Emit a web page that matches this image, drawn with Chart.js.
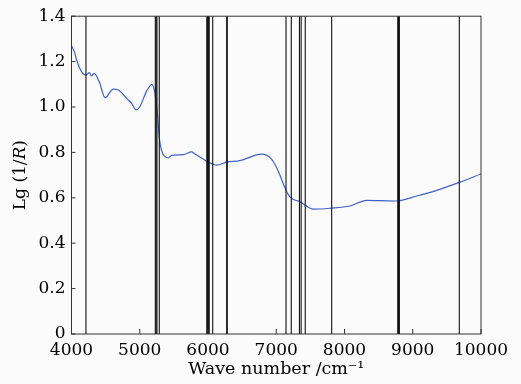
<!DOCTYPE html>
<html>
<head>
<meta charset="utf-8">
<script src="https://cdn.jsdelivr.net/npm/chart.js@4/dist/chart.umd.min.js"></script>
<style>
  html, body { margin: 0; padding: 0; background: #fbfbfb; }
  #wrap { width: 521px; height: 384px; }
</style>
</head>
<body>
<div id="wrap"><canvas id="chart"></canvas></div>
<script>
// spectrum
const waveNumbers = [4000, 4040, 4076, 4149, 4212, 4261, 4296, 4330, 4407, 4491, 4612, 4686, 4832, 4882, 4945,
    5003, 5102, 5175, 5213, 5263, 5282, 5322, 5385, 5418, 5468, 5638, 5761, 5810, 5981, 6127, 6274,
    6468, 6787, 6933, 7030, 7126, 7200, 7346, 7543, 7787, 8080, 8325, 8765, 9058, 9351, 9692, 10000];
const lgValues = [1.27, 1.245, 1.206, 1.155, 1.14, 1.151, 1.137, 1.148, 1.111, 1.041, 1.079, 1.075, 1.031, 1.016, 0.987,
    1.002, 1.071, 1.099, 1.075, 0.958, 0.878, 0.805, 0.779, 0.776, 0.787, 0.79, 0.802, 0.793, 0.761, 0.744, 0.757,
    0.764, 0.792, 0.769, 0.717, 0.645, 0.604, 0.583, 0.55, 0.554, 0.564, 0.589, 0.586, 0.608, 0.633, 0.669, 0.705];

// selected wavelength markers (close groups show up as the thick lines)
const bandPositions = [4212, 5228, 5240, 5252, 5286, 5982, 5994, 6006, 6018, 6069, 6274, 6282,
    7143, 7220, 7340, 7365, 7425, 7812, 8780, 8792, 8804, 9682];

const xTicks = [4000, 5000, 6000, 7000, 8000, 9000, 10000];
const yTicks = [0, 0.2, 0.4, 0.6, 0.8, 1.0, 1.2, 1.4];

const FONT = "'DejaVu Serif', 'Liberation Serif', serif";

const frame = {
    id: "frame",
    afterDatasetsDraw(chart) {
        const { ctx, chartArea: a, scales: { x, y } } = chart;
        ctx.save();
        ctx.strokeStyle = "#111";
        ctx.lineWidth = 1.1;
        for (const wn of bandPositions) {
            const px = x.getPixelForValue(wn);
            ctx.beginPath();
            ctx.moveTo(px, a.top);
            ctx.lineTo(px, a.bottom);
            ctx.stroke();
        }
        // box
        ctx.lineWidth = 1;
        ctx.strokeStyle = "#333";
        ctx.strokeRect(a.left, a.top, a.right - a.left, a.bottom - a.top);
        // inward ticks
        for (const v of xTicks) {
            const px = x.getPixelForValue(v);
            ctx.beginPath();
            ctx.moveTo(px, a.bottom);
            ctx.lineTo(px, a.bottom - 5);
            ctx.stroke();
        }
        for (const v of yTicks) {
            const py = y.getPixelForValue(v);
            ctx.beginPath();
            ctx.moveTo(a.left, py);
            ctx.lineTo(a.left + 4, py);
            ctx.stroke();
        }
        // y title with italic R
        ctx.translate(21, (a.top + a.bottom) / 2);
        ctx.rotate(-Math.PI / 2);
        ctx.fillStyle = "#000";
        ctx.textBaseline = "middle";
        const parts = [["Lg (1/", ""], ["R", "italic "], [")", ""]];
        let total = 0;
        for (const [t, st] of parts) {
            ctx.font = st + "17px " + FONT;
            total += ctx.measureText(t).width;
        }
        let cx = -total / 2;
        for (const [t, st] of parts) {
            ctx.font = st + "17px " + FONT;
            ctx.fillText(t, cx, 0);
            cx += ctx.measureText(t).width;
        }
        ctx.restore();
    },
};

new Chart(document.getElementById("chart"), {
    type: "line",
    data: {
        datasets: [
            {
                data: waveNumbers.map((w, i) => ({ x: w, y: lgValues[i] })),
                borderColor: "rgb(62, 98, 200)",
                borderWidth: 1.2,
                pointRadius: 0,
                cubicInterpolationMode: "monotone",
            },
        ],
    },
    options: {
        responsive: true,
        maintainAspectRatio: false,
        animation: false,
        layout: { padding: { top: 14, right: 40, left: 0, bottom: 0 } },
        plugins: { legend: { display: false }, tooltip: { enabled: false } },
        scales: {
            x: {
                type: "linear",
                min: 4000,
                max: 10000,
                afterBuildTicks: (s) => { s.ticks = xTicks.map((v) => ({ value: v })); },
                afterFit: (s) => { s.height = 50; },
                grid: { display: false, drawTicks: false },
                border: { display: false },
                ticks: {
                    color: "#000",
                    padding: 6,
                    font: { family: FONT, size: 17 },
                    maxRotation: 0,
                    autoSkip: false,
                    callback: (v) => String(v),
                },
                title: {
                    display: true,
                    text: "Wave number /cm\u207B\u00B9",
                    color: "#000",
                    font: { family: FONT, size: 17.5 },
                    padding: { top: 0, bottom: 4 },
                },
            },
            y: {
                min: 0,
                max: 1.4,
                afterBuildTicks: (s) => { s.ticks = yTicks.map((v) => ({ value: v })); },
                afterFit: (s) => { s.width = 71.5; },
                grid: { display: false, drawTicks: false },
                border: { display: false },
                ticks: {
                    color: "#000",
                    padding: 6,
                    font: { family: FONT, size: 17 },
                    autoSkip: false,
                    callback: (v) => (v === 0 ? "0" : v.toFixed(1)),
                },
            },
        },
    },
    plugins: [frame],
});
</script>
</body>
</html>
